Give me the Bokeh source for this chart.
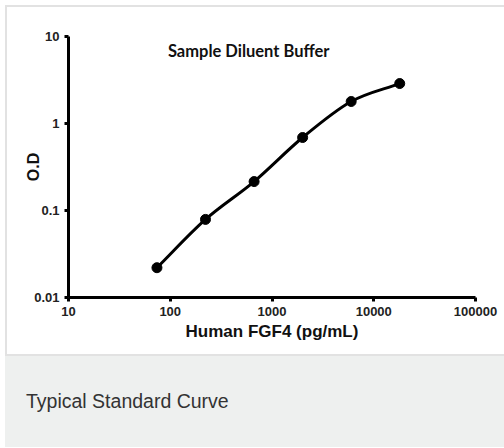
import numpy as np
from bokeh.plotting import figure
from bokeh.models import Div, Label, FixedTicker, CustomJSTickFormatter
from bokeh.layouts import column, row
from bokeh.embed import file_html
from bokeh.resources import INLINE

# ---- data ----
concentration = [74, 222, 667, 2000, 6000, 18000]
od = [0.022, 0.079, 0.215, 0.69, 1.79, 2.88]
x_ticks = [10, 100, 1000, 10000, 100000]
y_ticks = [0.01, 0.1, 1, 10]
chart_title = "Sample Diluent Buffer"
x_label = "Human FGF4 (pg/mL)"
y_label = "O.D"
caption = "Typical Standard Curve"

W, H = 497, 347
p = figure(width=W, height=H, x_axis_type="log", y_axis_type="log",
           x_range=(10, 100000), y_range=(0.01, 10),
           output_backend="svg", toolbar_location=None,
           min_border_left=61, min_border_right=W - 61 - 407,
           min_border_top=29, min_border_bottom=H - 29 - 261, margin=0)
p.grid.visible = False
p.outline_line_color = None
p.background_fill_color = "white"
p.border_fill_color = "white"

fmt = "return tick.toString();"
for ax, ticks in ((p.xaxis[0], x_ticks), (p.yaxis[0], y_ticks)):
    ax.ticker = FixedTicker(ticks=ticks, minor_ticks=[])
    ax.formatter = CustomJSTickFormatter(code=fmt)
    ax.axis_line_width = 3
    ax.axis_line_color = "black"
    ax.major_tick_line_width = 3
    ax.major_tick_line_color = "black"
    ax.major_tick_out = 4
    ax.major_tick_in = 0
    ax.minor_tick_line_color = None
    ax.major_label_text_font = "Liberation Sans"
    ax.major_label_text_font_style = "bold"
    ax.major_label_text_font_size = "13px"
    ax.major_label_text_color = "#222222"
    ax.major_label_standoff = 5
    ax.axis_label_text_font = "Liberation Sans"
    ax.axis_label_text_font_style = "bold"
    ax.axis_label_text_color = "#111111"

p.xaxis.axis_label = x_label
p.xaxis.axis_label_text_font_size = "17px"
p.xaxis.axis_label_standoff = 3
p.yaxis.axis_label = y_label
p.yaxis.axis_label_text_font_size = "16px"
p.yaxis.axis_label_standoff = -11

# smooth curve through the points (Catmull-Rom in log space)
lx = np.log10(concentration)
ly = np.log10(od)
n = len(lx)
px = np.concatenate([[2 * lx[0] - lx[1]], lx, [2 * lx[-1] - lx[-2]]])
py = np.concatenate([[2 * ly[0] - ly[1]], ly, [2 * ly[-1] - ly[-2]]])
x0, y0, x1, y1, cx0, cy0, cx1, cy1 = [], [], [], [], [], [], [], []
for i in range(n - 1):
    a, b, c, d = i, i + 1, i + 2, i + 3
    x0.append(10 ** px[b]); y0.append(10 ** py[b])
    x1.append(10 ** px[c]); y1.append(10 ** py[c])
    cx0.append(10 ** (px[b] + (px[c] - px[a]) / 6)); cy0.append(10 ** (py[b] + (py[c] - py[a]) / 6))
    cx1.append(10 ** (px[c] - (px[d] - px[b]) / 6)); cy1.append(10 ** (py[c] - (py[d] - py[b]) / 6))
p.bezier(x0=x0, y0=y0, x1=x1, y1=y1, cx0=cx0, cy0=cy0, cx1=cx1, cy1=cy1,
         line_color="black", line_width=3)
p.scatter(concentration, od, size=10, color="black")

p.add_layout(Label(x=590, y=6.9, text=chart_title, text_align="center",
                   text_baseline="middle", text_font="Lato",
                   text_font_style="bold", text_font_size="16.5px",
                   text_color="#111111"))

border_color = "#e2e2e2"
top_line = Div(text="", width=499, height=2, margin=0,
               styles={"background-color": border_color})
left_line = Div(text="", width=2, height=H, margin=0,
                styles={"background-color": border_color})
bottom_line = Div(text="", width=499, height=2, margin=0,
                  styles={"background-color": border_color})
cap = Div(text=f'<div style="padding:0 0 0 21px;line-height:91px;">{caption}</div>',
          width=499, height=91, margin=0,
          styles={"background-color": "#eef0ef", "font-family": "Liberation Sans",
                  "font-size": "19.5px", "color": "#333333"})

layout = column(top_line, row(left_line, p, spacing=0, margin=0),
                bottom_line, cap, spacing=0, margin=(5, 0, 0, 5))

open("out.html", "w").write(file_html(layout, INLINE))
